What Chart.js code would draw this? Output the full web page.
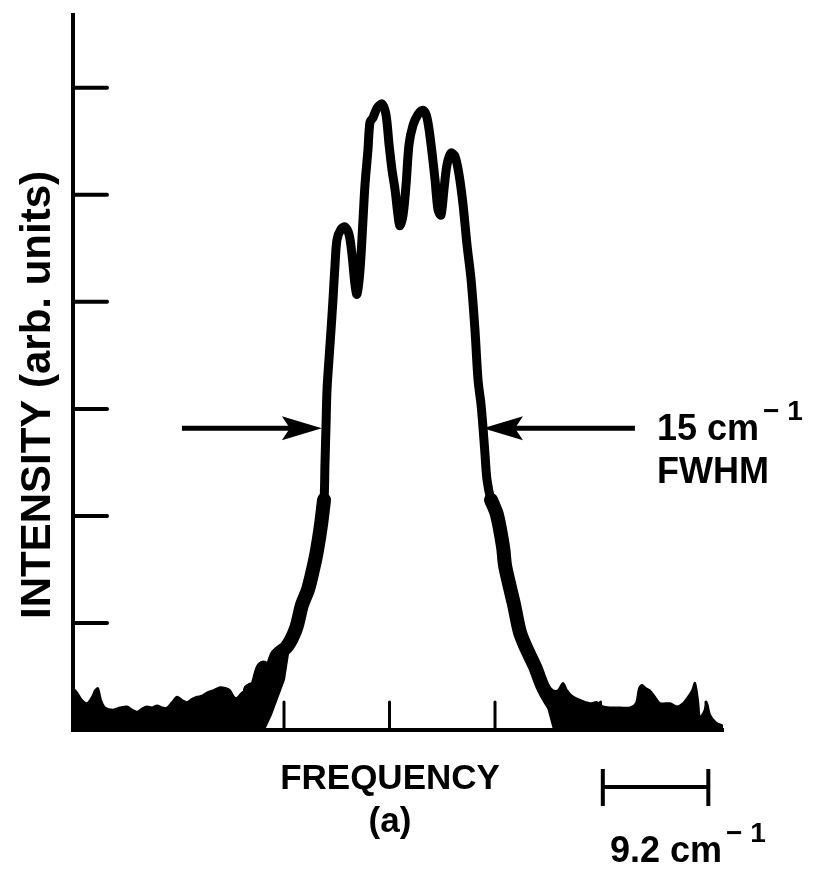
<!DOCTYPE html>
<html>
<head>
<meta charset="utf-8">
<script src="https://cdn.jsdelivr.net/npm/chart.js@4.4.1/dist/chart.umd.min.js"></script>
<style>
  html, body { margin: 0; padding: 0; background: #fff; }
  canvas { display: block; }
</style>
</head>
<body>
<canvas id="spectrum" width="821" height="871"></canvas>
<script>
"use strict";
// band trace: frequency offset (cm-1) vs intensity (arb. units)
var traceFreq = [15.43, 16.04, 16.57, 17.18, 17.79, 18.66, 19.45, 19.97, 20.49, 20.93, 21.28, 21.63, 21.89, 21.97, 22.06, 22.15, 22.32, 22.50, 22.67, 22.85, 23.02, 23.37, 23.72, 24.07, 24.33, 24.59, 24.76, 25.03, 25.29, 25.46, 25.72, 25.90, 26.16, 26.51, 26.94, 27.29, 27.56, 27.82, 28.08, 28.34, 28.51, 28.78, 29.04, 29.30, 29.65, 30.08, 30.52, 30.87, 31.22, 31.57, 31.83, 32.09, 32.35, 32.61, 32.96, 33.31, 33.66, 34.01, 34.36, 34.71, 35.05, 35.32, 35.58, 35.75, 35.93, 36.10, 36.45, 36.97, 37.50, 37.67, 38.02, 38.46, 38.98, 39.59, 40.29, 40.90, 41.59, 42.29];
var traceInt = [0.37, 0.41, 0.58, 0.54, 0.70, 0.78, 0.95, 1.17, 1.31, 1.50, 1.68, 1.92, 2.15, 2.48, 2.83, 3.18, 3.46, 3.74, 4.02, 4.35, 4.58, 4.68, 4.70, 4.63, 4.44, 4.16, 4.07, 4.30, 4.77, 5.09, 5.42, 5.68, 5.72, 5.81, 5.85, 5.75, 5.47, 5.23, 5.05, 4.81, 4.71, 4.81, 5.09, 5.47, 5.65, 5.75, 5.79, 5.72, 5.47, 5.14, 4.86, 4.81, 5.05, 5.28, 5.39, 5.36, 5.19, 4.91, 4.53, 4.21, 3.74, 3.27, 3.04, 2.83, 2.57, 2.34, 2.15, 2.01, 1.71, 1.54, 1.37, 1.17, 0.91, 0.75, 0.59, 0.42, 0.28, 0.17];

// noise floor: top edge and bottom edge on each side of the band
var floorLeftFreq = [0, 0.35, 0.78, 1.22, 1.66, 1.92, 2.18, 2.44, 2.79, 3.49, 4.10, 4.71, 5.14, 5.58, 6.02, 6.45, 6.89, 7.33, 7.76, 8.20, 8.63, 9.07, 9.51, 9.94, 10.38, 10.81, 11.25, 11.68, 12.21, 12.82, 13.34, 13.69, 14.04, 14.30, 14.74, 15.17, 15.61, 16.04, 16.31, 16.57, 16.83, 17.18, 17.44, 17.79, 18.22, 18.66, 19.01];
var floorLeftInt = [0.39, 0.35, 0.28, 0.25, 0.31, 0.37, 0.39, 0.28, 0.21, 0.19, 0.21, 0.22, 0.19, 0.17, 0.20, 0.22, 0.21, 0.23, 0.21, 0.21, 0.26, 0.31, 0.28, 0.26, 0.29, 0.31, 0.32, 0.35, 0.37, 0.40, 0.39, 0.37, 0.31, 0.30, 0.35, 0.37, 0.40, 0.44, 0.51, 0.59, 0.58, 0.53, 0.63, 0.72, 0.76, 0.78, 0.83];
var floorLeftBaseFreq = [0, 16.74, 17.35, 18.49, 19.01];
var floorLeftBaseInt = [0, 0, 0.14, 0.47, 0.83];

var floorRightFreq = [40.55, 40.81, 41.33, 41.86, 42.29, 42.73, 43.08, 43.51, 44.21, 45.08, 45.69, 46.22, 46.83, 47.70, 48.57, 49.09, 49.36, 49.62, 49.97, 50.31, 50.75, 51.19, 52.06, 52.67, 53.19, 53.63, 53.98, 54.24, 54.50, 54.67, 55.02, 55.28, 55.55, 56.07, 56.68];
var floorRightInt = [0.47, 0.58, 0.44, 0.37, 0.37, 0.44, 0.37, 0.32, 0.28, 0.25, 0.26, 0.22, 0.21, 0.21, 0.21, 0.25, 0.39, 0.42, 0.39, 0.37, 0.31, 0.25, 0.25, 0.22, 0.25, 0.31, 0.37, 0.44, 0.28, 0.12, 0.17, 0.25, 0.14, 0.07, 0.04];
var floorRightBaseFreq = [40.55, 41.16, 41.86, 56.68];
var floorRightBaseInt = [0.47, 0.28, 0, 0];

var freqTicks = [9.2, 18.4, 27.6, 36.8, 46.0, 55.2];
var intTicks = [1, 2, 3, 4, 5, 6];

// FWHM arrows: [tail, tip] in cm-1, at the half-height level
var fwhmLevel = 2.82;
var fwhmLeft = [9.5, 21.7];
var fwhmRight = [49.0, 35.75];
var scaleBar = [46.2, 55.4];

function pts(xs, ys) {
    return xs.map(function(x, i) { return {x: x, y: ys[i]}; });
}

var trace = pts(traceFreq, traceInt);
// the lower wings come out noisier, so they get a heavier stroke
var wingLeft = trace.filter(function(p) { return p.x < 30 && p.y < 2.2; });
var wingRight = trace.filter(function(p) { return p.x > 30 && p.y < 2.2; });

function arrow(ctx, x0, x1, y) {
    var dir = x1 > x0 ? 1 : -1;
    ctx.lineWidth = 5;
    ctx.beginPath();
    ctx.moveTo(x0, y);
    ctx.lineTo(x1 - dir * 30, y);
    ctx.stroke();
    ctx.beginPath();
    ctx.moveTo(x1, y);
    ctx.lineTo(x1 - dir * 40, y - 12);
    ctx.lineTo(x1 - dir * 32, y);
    ctx.lineTo(x1 - dir * 40, y + 12);
    ctx.closePath();
    ctx.fill();
}

var axisTicks = {
    id: 'axisTicks',
    beforeDatasetsDraw: function(chart) {
        var ctx = chart.ctx, a = chart.chartArea, x = chart.scales.x, y = chart.scales.y;
        ctx.save();
        ctx.strokeStyle = '#000';
        ctx.lineCap = 'round';
        ctx.lineWidth = 4;
        intTicks.forEach(function(v) {
            var py = y.getPixelForValue(v);
            ctx.beginPath();
            ctx.moveTo(a.left, py);
            ctx.lineTo(a.left + 34, py);
            ctx.stroke();
        });
        ctx.lineWidth = 3;
        freqTicks.forEach(function(v) {
            var px = x.getPixelForValue(v);
            ctx.beginPath();
            ctx.moveTo(px, a.bottom);
            ctx.lineTo(px, a.bottom - 28);
            ctx.stroke();
        });
        ctx.restore();
    }
};

var labels = {
    id: 'labels',
    afterDraw: function(chart) {
        var ctx = chart.ctx, x = chart.scales.x, y = chart.scales.y;
        var font = '"Liberation Sans", Arial, sans-serif';
        ctx.save();
        ctx.fillStyle = '#000';
        ctx.strokeStyle = '#000';
        ctx.lineCap = 'butt';

        var hy = y.getPixelForValue(fwhmLevel);
        arrow(ctx, x.getPixelForValue(fwhmLeft[0]), x.getPixelForValue(fwhmLeft[1]), hy);
        arrow(ctx, x.getPixelForValue(fwhmRight[0]), x.getPixelForValue(fwhmRight[1]), hy);

        // y axis title
        ctx.save();
        ctx.translate(38, 395);
        ctx.rotate(-Math.PI / 2);
        ctx.font = 'bold 42px ' + font;
        ctx.textAlign = 'center';
        ctx.textBaseline = 'middle';
        ctx.fillText('INTENSITY (arb. units)', 0, 0);
        ctx.restore();

        ctx.textBaseline = 'alphabetic';
        ctx.textAlign = 'center';
        ctx.font = 'bold 35px ' + font;
        ctx.fillText('FREQUENCY', 390, 789);
        ctx.fillText('(a)', 390, 832);

        // 15 cm-1 FWHM
        ctx.textAlign = 'left';
        ctx.font = 'bold 36px ' + font;
        ctx.fillText('15 cm', 657, 440);
        var w = ctx.measureText('15 cm').width;
        ctx.font = 'bold 28px ' + font;
        ctx.fillText('\u2212 1', 657 + w + 4, 420);
        ctx.font = 'bold 36px ' + font;
        ctx.fillText('FWHM', 657, 483);

        // scale bar, one tick spacing
        var b0 = x.getPixelForValue(scaleBar[0]), b1 = x.getPixelForValue(scaleBar[1]);
        ctx.lineWidth = 4;
        ctx.beginPath();
        ctx.moveTo(b0, 769); ctx.lineTo(b0, 806);
        ctx.moveTo(b1, 769); ctx.lineTo(b1, 806);
        ctx.moveTo(b0, 787); ctx.lineTo(b1, 787);
        ctx.stroke();
        ctx.font = 'bold 36px ' + font;
        ctx.fillText('9.2 cm', 610, 862);
        w = ctx.measureText('9.2 cm').width;
        ctx.font = 'bold 28px ' + font;
        ctx.fillText('\u2212 1', 610 + w + 4, 842);
        ctx.restore();
    }
};

var lineStyle = {
    borderColor: '#000',
    backgroundColor: '#000',
    pointRadius: 0,
    tension: 0.3,
    borderJoinStyle: 'round',
    borderCapStyle: 'round'
};

new Chart(document.getElementById('spectrum').getContext('2d'), {
    type: 'line',
    data: {
        datasets: [
            Object.assign({label: 'floor L', data: pts(floorLeftFreq, floorLeftInt), fill: '+1', borderWidth: 2}, lineStyle),
            Object.assign({label: 'floor L base', data: pts(floorLeftBaseFreq, floorLeftBaseInt), fill: false, borderWidth: 0}, lineStyle, {tension: 0}),
            Object.assign({label: 'floor R', data: pts(floorRightFreq, floorRightInt), fill: '+1', borderWidth: 2}, lineStyle),
            Object.assign({label: 'floor R base', data: pts(floorRightBaseFreq, floorRightBaseInt), fill: false, borderWidth: 0}, lineStyle, {tension: 0}),
            Object.assign({label: 'wing L', data: wingLeft, fill: false, borderWidth: 14}, lineStyle),
            Object.assign({label: 'wing R', data: wingRight, fill: false, borderWidth: 14}, lineStyle),
            Object.assign({label: 'trace', data: trace, fill: false, borderWidth: 9}, lineStyle)
        ]
    },
    options: {
        responsive: false,
        animation: false,
        layout: {padding: {left: 73, top: 15, right: 98, bottom: 141}},
        plugins: {legend: {display: false}, tooltip: {enabled: false}},
        scales: {
            x: {
                type: 'linear', min: 0, max: 56.68,
                grid: {display: false, drawTicks: false},
                border: {display: true, color: '#000', width: 4},
                ticks: {display: false}
            },
            y: {
                min: 0, max: 6.68,
                grid: {display: false, drawTicks: false},
                border: {display: true, color: '#000', width: 4},
                ticks: {display: false}
            }
        }
    },
    plugins: [axisTicks, labels]
});
</script>
</body>
</html>
